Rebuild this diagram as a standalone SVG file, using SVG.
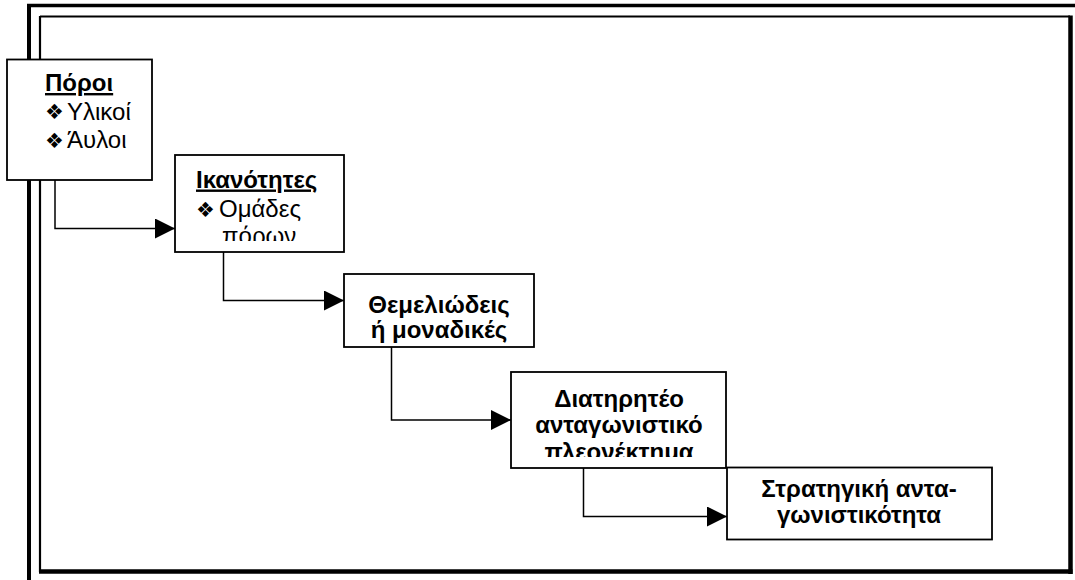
<svg xmlns="http://www.w3.org/2000/svg" width="1075" height="580" viewBox="0 0 1075 580">
  <style>
    .box { fill: #fff; stroke: #000; stroke-width: 1.8; }
    .txt { font-family: "Liberation Sans", Arial, sans-serif; font-size: 24px; fill: #000; }
    .b { font-weight: bold; }
    .c { text-anchor: middle; }
    .u { text-decoration: underline; }
    .bul { font-family: "DejaVu Sans", sans-serif; font-size: 21px; fill: #000; }
    .wire { fill: none; stroke: #000; stroke-width: 1.5; }
  </style>
  <defs>
    <marker id="arrow" markerWidth="20" markerHeight="20" refX="20" refY="10" orient="auto" markerUnits="userSpaceOnUse">
      <path d="M0,0 L20,10 L0,20 Z" fill="#000"/>
    </marker>
    <clipPath id="clip-ikanotites"><rect x="176" y="156" width="167" height="85"/></clipPath>
    <clipPath id="clip-diatirito"><rect x="512" y="373" width="213" height="84"/></clipPath>
  </defs>

  <!-- page frame -->
  <g id="frame" fill="none" stroke="#000">
    <line x1="27" y1="5.5" x2="1075" y2="5.5" stroke-width="3.5"/>
    <line x1="29" y1="4" x2="29" y2="580" stroke-width="4"/>
    <line x1="40" y1="16.5" x2="1070" y2="16.5" stroke-width="2.2"/>
    <line x1="40" y1="16" x2="40" y2="572" stroke-width="2.2"/>
    <line x1="39" y1="571.5" x2="1072.5" y2="571.5" stroke-width="4.5"/>
    <line x1="1070.5" y1="15.5" x2="1070.5" y2="574" stroke-width="4.5"/>
  </g>

  <!-- connectors -->
  <g id="connectors">
    <path class="wire" d="M55,180 V228.5 H175" marker-end="url(#arrow)"/>
    <path class="wire" d="M223.5,252 V300.5 H344" marker-end="url(#arrow)"/>
    <path class="wire" d="M391.5,347 V420 H511" marker-end="url(#arrow)"/>
    <path class="wire" d="M583.5,468 V516.5 H727" marker-end="url(#arrow)"/>
  </g>

  <!-- resources -->
  <g id="poroi">
    <rect class="box" x="7" y="59.5" width="145" height="120.5"/>
    <text class="txt b u" x="45" y="91">Πόροι</text>
    <text class="bul" x="45" y="119">❖</text>
    <text class="txt" x="67" y="119.5">Υλικοί</text>
    <text class="bul" x="45" y="147.5">❖</text>
    <text class="txt" x="67" y="148">Άυλοι</text>
  </g>

  <!-- capabilities -->
  <g id="ikanotites">
    <rect class="box" x="175" y="155" width="169" height="97"/>
    <g clip-path="url(#clip-ikanotites)">
      <text class="txt b u" x="196" y="187.5">Ικανότητες</text>
      <text class="bul" x="196" y="216.5">❖</text>
      <text class="txt" x="219" y="217">Ομάδες</text>
      <text class="txt" x="222" y="244">πόρων</text>
    </g>
  </g>

  <!-- core competences -->
  <g id="themeliodeis">
    <rect class="box" x="344" y="274" width="190" height="73"/>
    <text class="txt b c" x="439" y="312.5">Θεμελιώδεις</text>
    <text class="txt b c" x="439" y="338">ή μοναδικές</text>
  </g>

  <!-- sustainable competitive advantage -->
  <g id="diatirito">
    <rect class="box" x="511" y="372" width="215" height="96"/>
    <g clip-path="url(#clip-diatirito)">
      <text class="txt b c" x="619" y="406.5">Διατηρητέο</text>
      <text class="txt b c" x="619" y="433">ανταγωνιστικό</text>
      <text class="txt b c" x="619" y="460">πλεονέκτημα</text>
    </g>
  </g>

  <!-- strategic competitiveness -->
  <g id="stratigiki">
    <rect class="box" x="727" y="467.5" width="265" height="72"/>
    <text class="txt b c" x="859" y="497">Στρατηγική αντα-</text>
    <text class="txt b c" x="859" y="522.5">γωνιστικότητα</text>
  </g>
</svg>
